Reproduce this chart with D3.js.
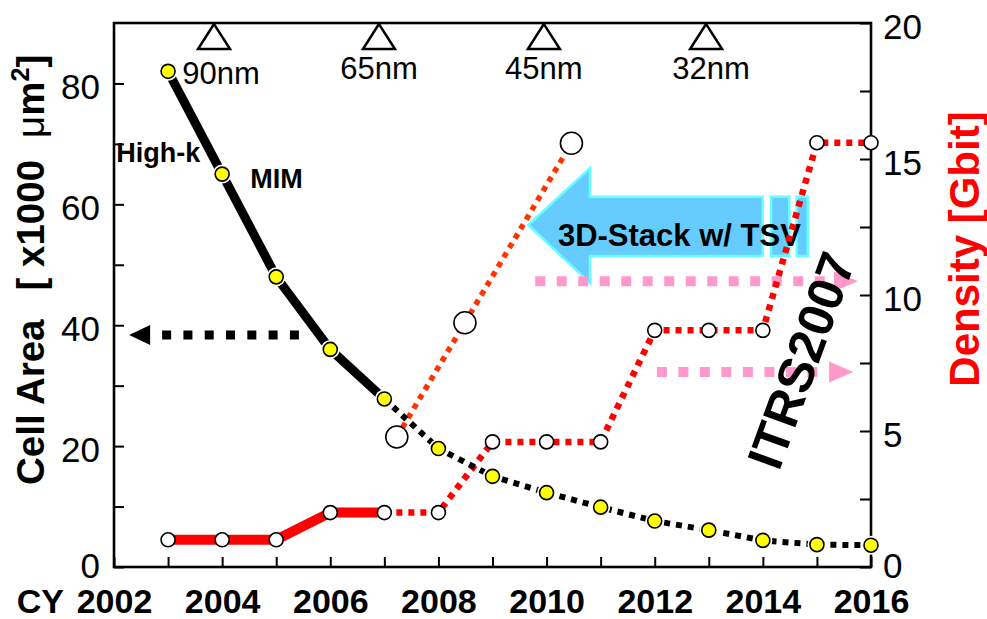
<!DOCTYPE html>
<html><head><meta charset="utf-8">
<script src="https://cdn.jsdelivr.net/npm/d3@7"></script>
<style>
body{margin:0;background:#fff}
svg{display:block;font-family:"Liberation Sans",Arial,Helvetica,sans-serif}
</style>
</head><body>
<svg id="c" width="987" height="619"></svg>
<script>
// ---------- data ----------
const years = [2003,2004,2005,2006,2007,2008,2009,2010,2011,2012,2013,2014,2015,2016];
const cellArea = [82,65,48,36,27.8,19.6,15,12.3,9.9,7.6,6.1,4.4,3.7,3.6];      // x1000 um^2 (left axis)
const density  = [1,1,1,2,2,2,4.6,4.6,4.6,8.7,8.7,8.7,15.6,15.6];              // Gbit (right axis)
const solidUntil = 2007;
const stackYears = [2007.23, 2008.49, 2010.46];
const stackDensity = [4.78, 8.98, 15.58];
const nodeYears = [2003.85, 2006.9, 2009.95, 2012.95];
const nodeLabels = ["90nm","65nm","45nm","32nm"];
const leftTicks = d3.range(0, 90, 10);
const leftLabels = [0,20,40,60,80];
const rightTicks = d3.range(0, 20.01, 2.5);
const rightLabels = [0,5,10,15,20];
const xTicks = d3.range(2002, 2017);
const xLabels = [2002,2004,2006,2008,2010,2012,2014,2016];

// ---------- scales ----------
const m = {l:114, r:871, t:23, b:567};
const x = d3.scaleLinear([2002, 2016], [m.l, m.r]);
const yL = d3.scaleLinear([0, 90], [m.b, m.t]);
const yR = d3.scaleLinear([0, 20], [m.b, m.t]);

const svg = d3.select("#c");

// ---------- axes ----------
const axL = svg.append("g").attr("transform",`translate(${m.l},0)`)
  .call(d3.axisLeft(yL).tickValues(leftTicks).tickSize(-10).tickSizeOuter(0).tickPadding(14)
    .tickFormat(d => leftLabels.includes(d) ? d : ""));
const axR = svg.append("g").attr("transform",`translate(${m.r},0)`)
  .call(d3.axisRight(yR).tickValues(rightTicks).tickSize(-11).tickSizeOuter(0).tickPadding(12)
    .tickFormat(d => rightLabels.includes(d) ? d : ""));
const axB = svg.append("g").attr("transform",`translate(0,${m.b})`)
  .call(d3.axisBottom(x).tickValues(xTicks).tickSize(-10).tickSizeOuter(0).tickPadding(22)
    .tickFormat(d => xLabels.includes(d) ? d : ""));
[axL, axR, axB].forEach(a => {
  a.select(".domain").remove();
  a.selectAll(".tick line").attr("stroke","#000").attr("stroke-width",2);
  a.selectAll(".tick text").attr("fill","#000");
});
axL.selectAll(".tick text").attr("font-size",35).attr("dy", d => d === 0 ? "0.3em" : "0.44em");
axR.selectAll(".tick text").attr("font-size",35).attr("dy", d => d === 0 ? "0.3em" : "0.44em");
axB.selectAll(".tick text").attr("font-size",34).attr("font-weight","bold");
svg.append("text").attr("x", x(2002)-50).attr("y", 613).attr("text-anchor","end")
  .attr("font-size",34).attr("font-weight","bold").text("CY");

// frame
svg.append("rect").attr("x",m.l).attr("y",m.t).attr("width",m.r-m.l).attr("height",m.b-m.t)
  .attr("fill","none").attr("stroke","#000").attr("stroke-width",2.6);

// axis titles
const lt = svg.append("text").attr("transform",`translate(44,485) rotate(-90)`)
  .attr("font-size",38.5).attr("font-weight","bold").attr("fill","#000");
lt.append("tspan").text("Cell Area");
lt.append("tspan").attr("dx",29).text("[ x1000");
lt.append("tspan").attr("dx",22).attr("font-weight","normal").text("\u03bc");
lt.append("tspan").text("m");
lt.append("tspan").attr("font-size",25).attr("dy",-15).text("2");
lt.append("tspan").attr("dy",15).text("]");

svg.append("text").attr("transform",`translate(979,249) rotate(-90)`)
  .attr("text-anchor","middle").attr("font-size",42).attr("font-weight","bold")
  .attr("fill","#ff0000").text("Density [Gbit]");

// ---------- blue 3D-stack arrow ----------
const bx = [2009.662, 2010.803, 2013.997];
const by = [12.574, 14.669, 13.614, 11.434, 10.441];
const arrowPts = [[bx[0],by[0]],[bx[1],by[1]],[bx[1],by[2]],[bx[2],by[2]],[bx[2],by[3]],[bx[1],by[3]],[bx[1],by[4]]]
  .map(p => [x(p[0]), yR(p[1])]);
svg.append("polygon").attr("points", arrowPts.map(p=>p.join(",")).join(" "))
  .attr("fill","#66ccff").attr("stroke","#66ffff").attr("stroke-width",2.5);
[[2014.151,2014.489],[2014.626,2014.830]].forEach(s => {
  svg.append("rect").attr("x",x(s[0])).attr("y",yR(by[2])).attr("width",x(s[1])-x(s[0]))
    .attr("height",yR(by[3])-yR(by[2])).attr("fill","#66ccff").attr("stroke","#66ffff").attr("stroke-width",2.5);
});
svg.append("text").attr("x",x(2010.21)).attr("y",yR(11.8)).attr("font-size",31)
  .attr("font-weight","bold").attr("fill","#000").text("3D-Stack w/ TSV");

// ---------- dotted arrows ----------
function dottedArrow(x0, x1, yv, yScale, color, w, dash, headLen, headH){
  const yy = yScale(yv), px0 = x(x0), px1 = x(x1);
  const dir = Math.sign(px1 - px0);
  const base = px1 - dir*headLen;
  svg.append("line").attr("x1",px0).attr("x2",base).attr("y1",yy).attr("y2",yy)
    .attr("stroke",color).attr("stroke-width",w).attr("stroke-dasharray",dash);
  svg.append("polygon").attr("points",`${px1},${yy} ${base},${yy-headH/2} ${base},${yy+headH/2}`)
    .attr("fill",color);
}
dottedArrow(2005.42, 2002.28, 38.4, yL, "#000", 9, "9,12.3", 21, 20);
dottedArrow(2009.79, 2015.76, 10.51, yR, "#ff99cc", 10, "10,11.5", 24, 20);
dottedArrow(2012.04, 2015.67, 7.17, yR, "#ff99cc", 10, "10,11.5", 24, 21);

// ---------- lines ----------
const idx = years.map((d,i)=>i);
const solidIdx = idx.filter(i => years[i] <= solidUntil);
const dotIdx = idx.filter(i => years[i] >= solidUntil);
const lineL = d3.line().x(i => x(years[i])).y(i => yL(cellArea[i]));
const lineR = d3.line().x(i => x(years[i])).y(i => yR(density[i]));

svg.append("path").attr("d", lineR(dotIdx)).attr("fill","none").attr("stroke","#ff0000")
  .attr("stroke-width",6.5).attr("stroke-dasharray","6,6");
svg.append("path").attr("d", lineR(solidIdx)).attr("fill","none").attr("stroke","#ff0000")
  .attr("stroke-width",10);
const stackLine = d3.line().x((d,i)=>x(stackYears[i])).y((d,i)=>yR(stackDensity[i]));
svg.append("path").attr("d", stackLine(stackYears)).attr("fill","none").attr("stroke","#ff3300")
  .attr("stroke-width",5.5).attr("stroke-dasharray","5.5,5.5");
svg.append("path").attr("d", lineL(dotIdx)).attr("fill","none").attr("stroke","#000")
  .attr("stroke-width",6).attr("stroke-dasharray","6,6");
svg.append("path").attr("d", lineL(solidIdx)).attr("fill","none").attr("stroke","#000")
  .attr("stroke-width",9);

// ---------- markers ----------
svg.append("g").selectAll("circle").data(idx).join("circle")
  .attr("cx", i => x(years[i])).attr("cy", i => yR(density[i])).attr("r",7)
  .attr("fill","#fff").attr("stroke","#000").attr("stroke-width",1.6);
svg.append("g").selectAll("circle").data(stackYears).join("circle")
  .attr("cx",(d,i)=>x(stackYears[i])).attr("cy",(d,i)=>yR(stackDensity[i])).attr("r",11)
  .attr("fill","#fff").attr("stroke","#000").attr("stroke-width",1.6);
svg.append("g").selectAll("circle").data(idx).join("circle")
  .attr("cx", i => x(years[i])).attr("cy", i => yL(cellArea[i])).attr("r",9.5).attr("fill","#fff");
svg.append("g").selectAll("circle").data(idx).join("circle")
  .attr("cx", i => x(years[i])).attr("cy", i => yL(cellArea[i])).attr("r",7)
  .attr("fill","#ffff00").attr("stroke","#000").attr("stroke-width",1.6);

// ---------- technology node triangles ----------
const labelDx = [7,0,0,5], labelDy = [5,0,0,0];
nodeYears.forEach((yr,i) => {
  const cx = x(yr);
  svg.append("path").attr("d",`M${cx},${m.t+1} L${cx-16},${m.t+26} L${cx+16},${m.t+26} Z`)
    .attr("fill","#fff").attr("stroke","#000").attr("stroke-width",2.5).attr("stroke-linejoin","miter");
  svg.append("text").attr("x",cx+labelDx[i]).attr("y",79+labelDy[i]).attr("text-anchor","middle")
    .attr("font-size",31).attr("fill","#000").text(nodeLabels[i]);
});

// ---------- annotations ----------
svg.append("text").attr("x",x(2002.04)).attr("y",yL(67)).attr("font-size",27).attr("font-weight","bold").text("High-k");
svg.append("text").attr("x",x(2004.52)).attr("y",yL(62.7)).attr("font-size",27).attr("font-weight","bold").text("MIM");
svg.append("text").attr("transform",`translate(${x(2014.7)},${yR(7.6)}) rotate(-70)`)
  .attr("text-anchor","middle").attr("dy","0.36em").attr("font-size",50).attr("font-weight","bold")
  .attr("fill","#000").text("ITRS2007");
</script>
</body></html>
